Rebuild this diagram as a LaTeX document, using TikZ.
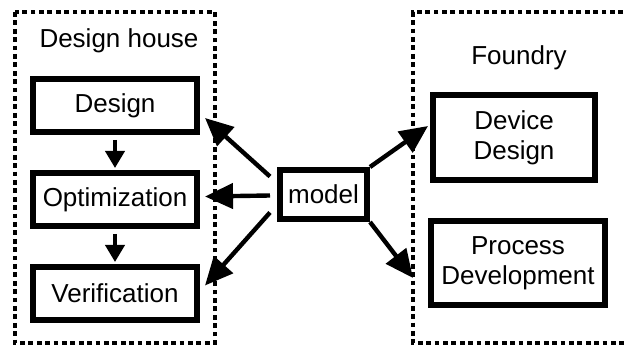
\documentclass[tikz,border=0pt]{standalone}
\usepackage{fontspec}
\setmainfont{Liberation Sans}
\usetikzlibrary{positioning, arrows.meta}

\begin{document}
\begin{tikzpicture}[x=0.5pt, y=-0.5pt,
    every node/.style={font=\fontsize{13}{15}\selectfont},
    block/.style={draw, line width=3pt, align=center, inner sep=0pt},
    house/.style={draw, line width=2.4pt, dash pattern=on 2.4pt off 1.8pt},
    feed/.style={line width=2.2pt, -{Triangle[length=14pt, width=12.5pt]}},
    flow/.style={line width=2pt, -{Triangle[length=8.5pt, width=9.5pt]}}]
    \useasboundingbox (0,0) rectangle (625,346);

    % design house
    \draw [house] (15,12) rectangle (215,343);
    \node (t_house) at (119,41) {Design house};
    \node [block, minimum width=82pt, minimum height=26.5pt] (h_design) at (115,105.5) {Design};
    \node [block, minimum width=82pt, minimum height=26.5pt, below=17.5pt of h_design] (h_opt) {Optimization};
    \node [block, minimum width=82pt, minimum height=26.5pt, below=17.5pt of h_opt] (h_verif) {Verification};

    \draw [flow, shorten <=2.5pt, shorten >=1pt] (h_design) -- (h_opt);
    \draw [flow, shorten <=2.5pt, shorten >=1pt] (h_opt) -- (h_verif);

    % foundry
    \draw [house] (640,12) -- (413,12) -- (413,343) -- (640,343);
    \node (t_foundry) at (519,58) {Foundry};
    \node [block, minimum width=81pt, minimum height=42.5pt] (f_device) at (514,137.5) {Device\\Design};
    \node [block, minimum width=87pt, minimum height=42pt] (f_process) at (518,263) {Process\\Development};

    % model
    \node [block, minimum width=43.5pt, minimum height=24.5pt] (model) at (323.5,194.5) {model};

    \draw [feed] ([shift={(-7,-18)}]model.west) -- ([shift={(5,12.5)}]h_design.east);
    \draw [feed] ([shift={(-7,1)}]model.west) -- ([shift={(5,-3)}]h_opt.east);
    \draw [feed] ([shift={(-7,18)}]model.west) -- ([shift={(5,-8)}]h_verif.east);
    \draw [feed] (model.north east) -- ([shift={(-2,-11.5)}]f_device.west);
    \draw [feed] (model.south east) -- ([shift={(-15,15)}]f_process.west);
\end{tikzpicture}
\end{document}
